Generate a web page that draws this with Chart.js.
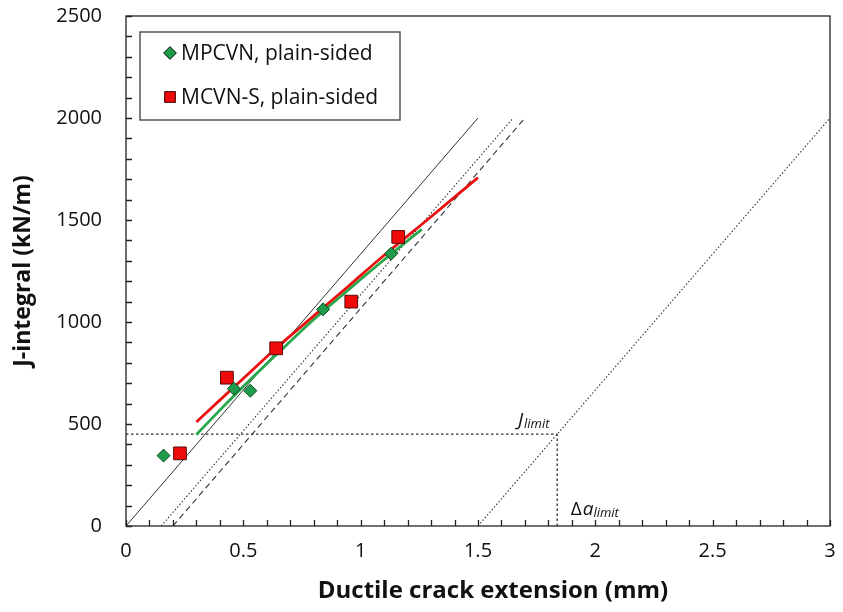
<!DOCTYPE html>
<html>
<head>
<meta charset="utf-8">
<script src="https://cdn.jsdelivr.net/npm/chart.js@4.4.0/dist/chart.umd.min.js"></script>
<style>
  html, body { margin: 0; padding: 0; background: #fff; }
  #wrap { width: 843px; height: 612px; }
</style>
</head>
<body>
<div id="wrap"><canvas id="rCurve" width="843" height="612"></canvas></div>
<script>
// tick labels
var xTicks = [0, 0.5, 1, 1.5, 2, 2.5, 3];
var xTickLabels = ['0', '0.5', '1', '1.5', '2', '2.5', '3'];
var yTicks = [0, 500, 1000, 1500, 2000, 2500];
var yTickLabels = ['0', '500', '1000', '1500', '2000', '2500'];

// MPCVN, plain-sided
var mpcvnDa = [0.16, 0.46, 0.53, 0.84, 1.13];
var mpcvnJ = [345, 673, 663, 1062, 1335];
// MCVN-S, plain-sided
var mcvnDa = [0.23, 0.43, 0.64, 0.96, 1.16];
var mcvnJ = [356, 727, 871, 1100, 1417];

// fitted R-curves
var mpcvnFitDa = [0.30, 0.40, 0.50, 0.65, 0.80, 0.95, 1.10, 1.26];
var mpcvnFitJ = [448, 568, 684, 850, 1012, 1160, 1305, 1454];
var mcvnFitDa = [0.30, 0.40, 0.50, 0.65, 0.80, 0.95, 1.10, 1.30, 1.50];
var mcvnFitJ = [510, 617, 723, 882, 1030, 1178, 1327, 1516, 1708];

// construction lines (blunting / offsets / exclusion)
var bluntDa = [0, 1.5], bluntJ = [0, 2000];
var off015Da = [0.15, 1.65], off015J = [0, 2000];
var off02Da = [0.2, 1.7], off02J = [0, 2000];
var exclDa = [1.5, 3], exclJ = [0, 2000];
var jLimit = 450;
var daLimit = 1.8375;

var xTitle = 'Ductile crack extension (mm)';

function pts(xs, ys) {
    return xs.map(function(x, i) { return {x: x, y: ys[i]}; });
}

var green = '#1f9b4b', greenDark = '#0b4d22';
var red = '#ee0a0a', redDark = '#5a0a0a';
var refGrey = '#333';
var fontFam = '"Open Sans"';

function refLine(data, dash, width) {
    return {
        type: 'line', data: data, showLine: true, pointRadius: 0,
        borderColor: refGrey, borderWidth: width || 1, borderDash: dash,
        fill: false, tension: 0
    };
}

function fixTicks(values) {
    return function(s) {
        s.ticks = values.map(function(v) { return {value: v}; });
    };
}

// axis box, inside ticks, legend box, x title and limit labels
var decor = {
    id: 'decor',
    afterDraw: function(chart) {
        var ctx = chart.ctx, a = chart.chartArea;
        var xs = chart.scales.x, ys = chart.scales.y;
        ctx.save();
        ctx.strokeStyle = '#222';
        ctx.lineWidth = 1.3;
        ctx.strokeRect(a.left, a.top, a.right - a.left, a.bottom - a.top);
        ctx.beginPath();
        for (var i = 0; i <= 30; i++) {
            var px = Math.round(xs.getPixelForValue(i / 10)) + 0.5;
            ctx.moveTo(px, a.bottom);
            ctx.lineTo(px, a.bottom - 6);
        }
        for (var j = 0; j <= 25; j++) {
            var py = Math.round(ys.getPixelForValue(j * 100)) + 0.5;
            ctx.moveTo(a.left, py);
            ctx.lineTo(a.left + 6, py);
        }
        ctx.stroke();

        // x axis title, sits a little right of the plot centre
        ctx.fillStyle = '#111';
        ctx.font = 'bold 24px ' + fontFam;
        ctx.textAlign = 'center';
        ctx.textBaseline = 'middle';
        ctx.fillText(xTitle, (a.left + a.right) / 2 + 15, 591);

        // legend
        var lx = 140, ly = 32, lw = 260, lh = 88;
        ctx.fillStyle = '#fff';
        ctx.fillRect(lx, ly, lw, lh);
        ctx.strokeStyle = '#555';
        ctx.lineWidth = 1.5;
        ctx.strokeRect(lx, ly, lw, lh);
        ctx.font = '21px ' + fontFam;
        ctx.textAlign = 'left';
        var items = [chart.data.datasets[0], chart.data.datasets[1]];
        items.forEach(function(ds, k) {
            var cy = ly + 21 + k * 44;
            Chart.helpers.drawPoint(ctx, {
                pointStyle: ds.pointStyle, radius: k === 0 ? 6 : 7.5,
                borderWidth: 1
            }, 170, cy);
            ctx.fillStyle = ds.backgroundColor;
            ctx.strokeStyle = ds.borderColor;
            ctx.lineWidth = 1;
            ctx.fill();
            ctx.stroke();
            ctx.fillStyle = '#111';
            ctx.fillText(ds.label, 181, cy + 1);
        });

        // J_limit and delta a_limit
        ctx.fillStyle = '#111';
        ctx.textBaseline = 'alphabetic';
        var jx = xs.getPixelForValue(1.67), jy = ys.getPixelForValue(490);
        ctx.font = 'italic 19px ' + fontFam;
        ctx.fillText('J', jx, jy);
        var w = ctx.measureText('J').width;
        ctx.font = 'italic 13px ' + fontFam;
        ctx.fillText('limit', jx + w + 1, jy + 2);
        var dx = xs.getPixelForValue(1.895), dy = ys.getPixelForValue(55);
        ctx.font = '19px ' + fontFam;
        ctx.fillText('Δ', dx, dy);
        w = ctx.measureText('Δ').width;
        ctx.font = 'italic 19px ' + fontFam;
        ctx.fillText('a', dx + w + 1, dy);
        var w2 = ctx.measureText('a').width;
        ctx.font = 'italic 13px ' + fontFam;
        ctx.fillText('limit', dx + w + w2 + 1, dy + 2);
        ctx.restore();
    }
};

new Chart(document.getElementById('rCurve').getContext('2d'), {
    type: 'scatter',
    data: {
        datasets: [{
            label: 'MPCVN, plain-sided',
            data: pts(mpcvnDa, mpcvnJ),
            pointStyle: 'rectRot',
            pointRadius: 6.5,
            backgroundColor: green,
            borderColor: greenDark,
            borderWidth: 1
        }, {
            label: 'MCVN-S, plain-sided',
            data: pts(mcvnDa, mcvnJ),
            pointStyle: 'rect',
            pointRadius: 9,
            backgroundColor: red,
            borderColor: redDark,
            borderWidth: 1
        }, {
            type: 'line',
            data: pts(mcvnFitDa, mcvnFitJ),
            showLine: true, pointRadius: 0,
            borderColor: '#e81010', borderWidth: 2.8,
            tension: 0.3, fill: false
        }, {
            type: 'line',
            data: pts(mpcvnFitDa, mpcvnFitJ),
            showLine: true, pointRadius: 0,
            borderColor: '#26a84a', borderWidth: 2.8,
            tension: 0.3, fill: false
        },
        refLine(pts(bluntDa, bluntJ), [], 1),
        refLine(pts(off015Da, off015J), [1.5, 2], 1.1),
        refLine(pts(off02Da, off02J), [6, 4], 1.1),
        refLine(pts(exclDa, exclJ), [1.5, 2], 1.1),
        refLine(pts([0, daLimit], [jLimit, jLimit]), [2.5, 2.5], 1.3),
        refLine(pts([daLimit, daLimit], [0, jLimit]), [2.5, 2.5], 1.3)
        ]
    },
    options: {
        responsive: false,
        animation: false,
        events: [],
        layout: { padding: { top: 16, right: 13, left: 0, bottom: 0 } },
        plugins: {
            legend: { display: false },
            tooltip: { enabled: false }
        },
        scales: {
            x: {
                type: 'linear',
                min: 0, max: 3,
                grid: { display: false, drawTicks: false },
                border: { display: false },
                afterBuildTicks: fixTicks(xTicks),
                afterFit: function(s) {
                    s.height = 86;
                    s.paddingLeft = 0; s.paddingRight = 0;
                },
                ticks: {
                    color: '#111', padding: 13, font: { family: fontFam, size: 20 },
                    callback: function(v, i) { return xTickLabels[i]; }
                },
                title: { display: false }
            },
            y: {
                type: 'linear',
                min: 0, max: 2500,
                grid: { display: false, drawTicks: false },
                border: { display: false },
                afterBuildTicks: fixTicks(yTicks),
                afterFit: function(s) {
                    s.width = 126;
                    s.paddingTop = 0; s.paddingBottom = 0;
                },
                ticks: {
                    color: '#111', padding: 24, font: { family: fontFam, size: 20 },
                    callback: function(v, i) { return yTickLabels[i]; }
                },
                title: {
                    display: true,
                    text: 'J-integral (kN/m)',
                    color: '#111',
                    font: { family: fontFam, size: 23, weight: 'bold' },
                    padding: { top: 10, bottom: 0 }
                }
            }
        }
    },
    plugins: [decor]
});
</script>
</body>
</html>
